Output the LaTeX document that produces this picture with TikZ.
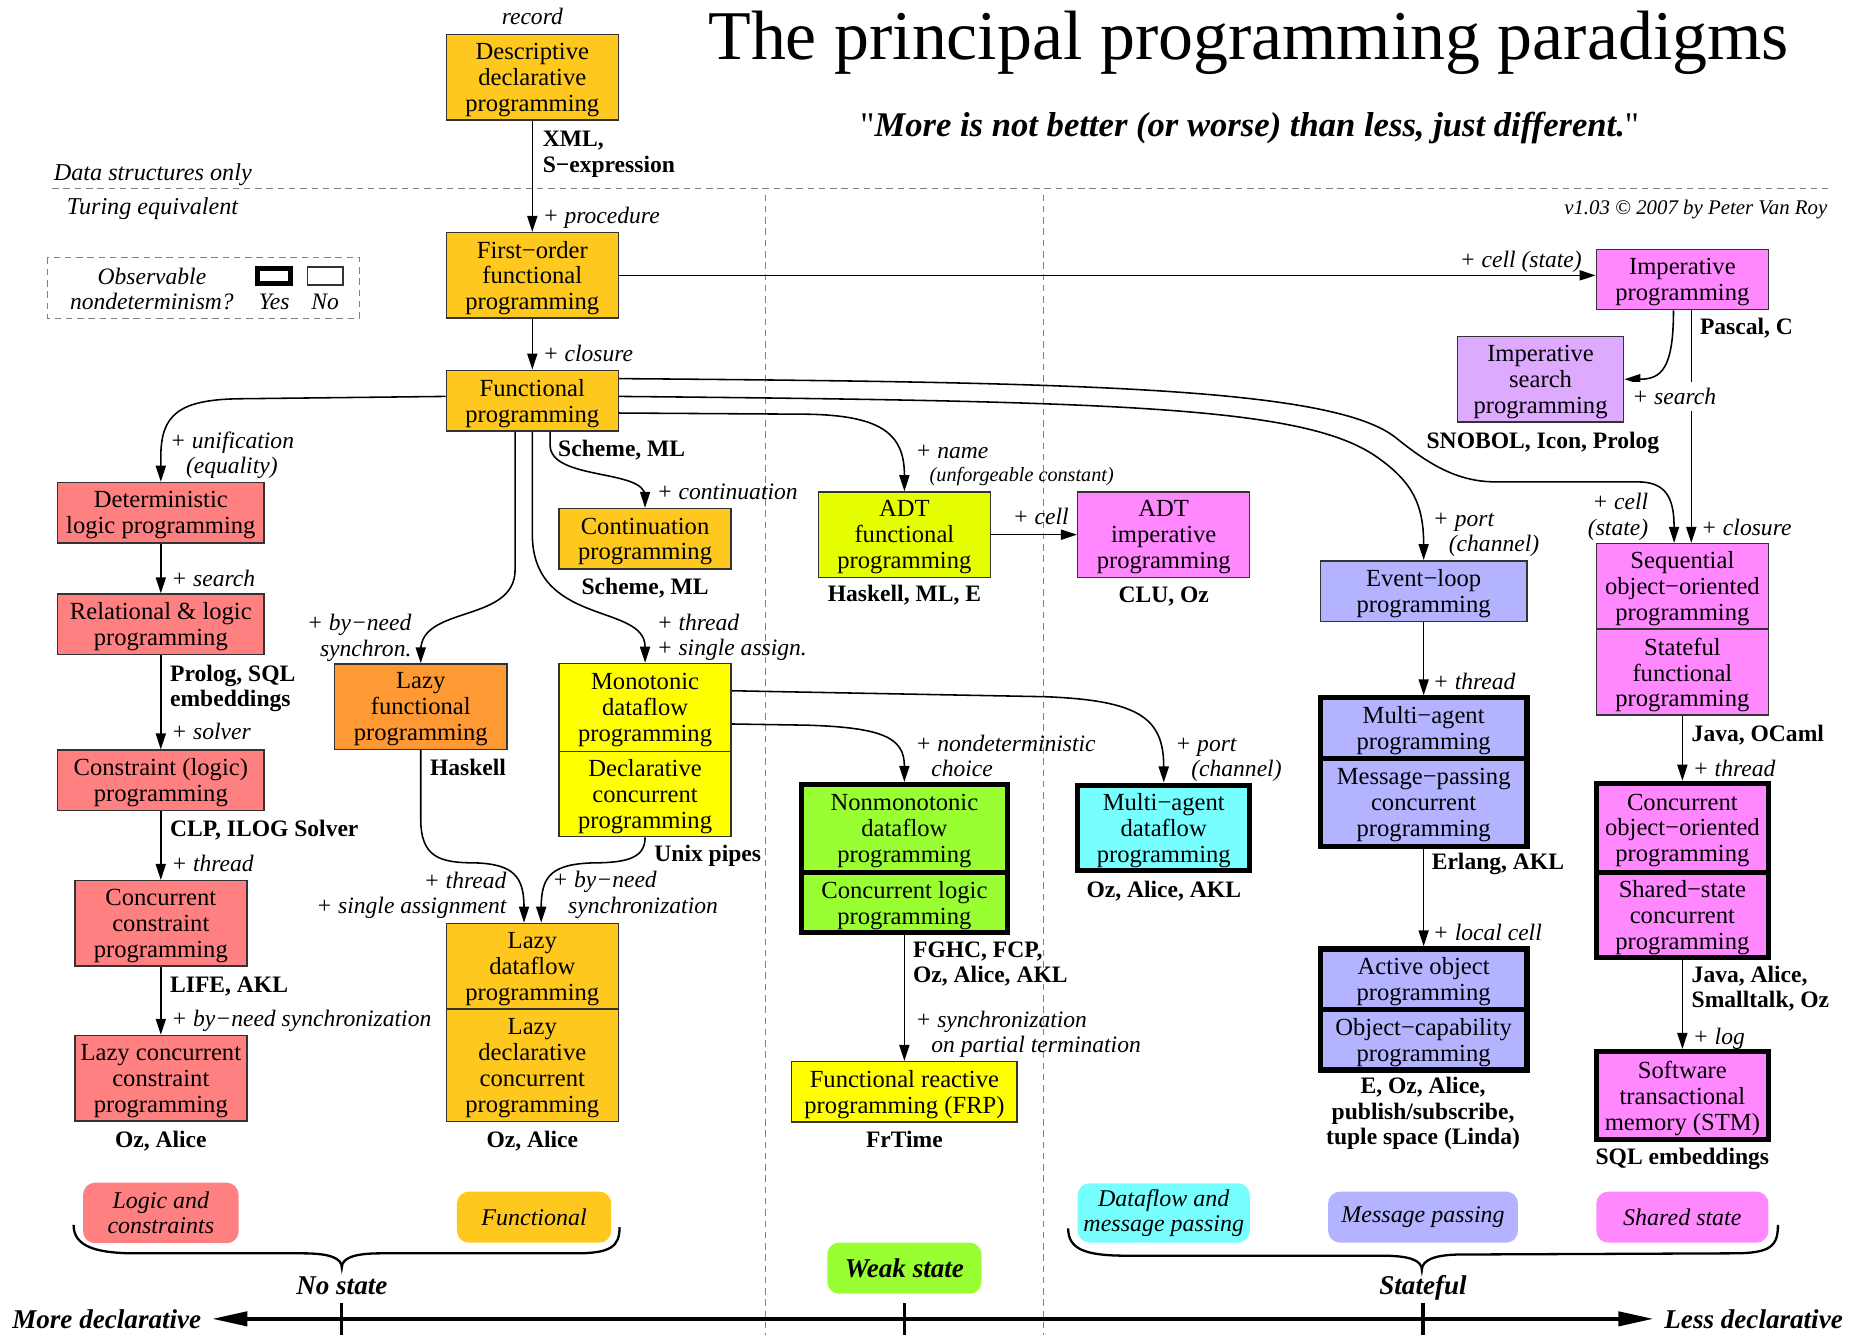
\documentclass[tikz,border=0pt]{standalone}
\usepackage{fontspec}
\setmainfont{Liberation Serif}
\usepackage{tikz}
\usetikzlibrary{arrows.meta}

\definecolor{funcol}{RGB}{255,200,30}
\definecolor{logcol}{RGB}{255,128,128}
\definecolor{lazcol}{RGB}{255,153,51}
\definecolor{yelcol}{RGB}{255,255,0}
\definecolor{adtcol}{RGB}{230,255,0}
\definecolor{grncol}{RGB}{153,255,51}
\definecolor{cyacol}{RGB}{119,255,255}
\definecolor{magcol}{RGB}{255,136,255}
\definecolor{purcol}{RGB}{221,170,255}
\definecolor{msgcol}{RGB}{179,179,255}

\newcommand{\boxsize}{\fontsize{11.8}{12.4}\selectfont}
\newcommand{\labsize}{\fontsize{11.3}{12.2}\selectfont}
\newcommand{\bigsize}{\fontsize{13}{15}\selectfont\bfseries\itshape}
\newcommand{\straightquote}{{\normalfont\addfontfeatures{Ligatures=TeXOff}"}}

\begin{document}
\begin{tikzpicture}[x=0.02cm, y=-0.02cm,
    para/.style={draw=black!80, line width=0.7pt, fill=#1, align=center, inner sep=0pt,
      minimum width=2.9cm, minimum height=1.44cm, text depth=0pt, font=\boxsize},
    wide/.style={minimum width=3.48cm},
    low/.style={minimum height=1.02cm},
    nondet/.style={draw=black, line width=2.5pt},
    note/.style={font=\labsize\itshape, align=left, inner sep=0pt},
    lang/.style={font=\labsize\bfseries, align=left, inner sep=0pt},
    family/.style={fill=#1, rounded corners=0.2cm, inner sep=0pt, minimum width=2.9cm,
      minimum height=0.86cm, align=center, font=\fontsize{11.5}{12.2}\selectfont\itshape},
    link/.style={-{Triangle[length=0.27cm,width=0.17cm]}, line width=0.75pt},
    guide/.style={black!50, dash pattern=on 0.11cm off 0.08cm, line width=0.5pt},
    brace/.style={line width=1.1pt},
    axisline/.style={line width=1.6pt}
]
\useasboundingbox (0,0) rectangle (1568,1125);
\fill[white] (0,0) rectangle (1568,1125);

% heading and separators
\node[anchor=base, inner sep=0pt, font=\fontsize{33.5}{40}\selectfont] (title) at (1052,50.5) {The principal programming paradigms};
\node[anchor=base, inner sep=0pt, font=\fontsize{16.6}{18}\selectfont\bfseries\itshape] (motto) at (1053,115) {\straightquote More is not better (or worse) than less, just different.\straightquote};
\draw[guide] (44,159) -- (1540,159);
\draw[guide] (645,164) -- (645,1125);
\draw[guide] (879,164) -- (879,1125);
\node[note, anchor=base west, font=\fontsize{11.6}{12.2}\selectfont\itshape] (datalabel) at (45,152) {Data structures only};
\node[note, anchor=base west, font=\fontsize{11.6}{12.2}\selectfont\itshape] (turinglabel) at (56,181) {Turing equivalent};
\node[note, anchor=base east, font=\fontsize{10}{12}\selectfont\itshape] (version) at (1540,181) {v1.03 © 2007 by Peter Van Roy};

% legend
\draw[guide] (40,217) rectangle (303,268);
\node[note, align=center, anchor=base] (observable) at (128,261) {Observable\\nondeterminism?};
\node[nondet, minimum width=0.56cm, minimum height=0.26cm, inner sep=0pt] (yesbox) at (231,232.5) {};
\node[draw=black!80, line width=0.7pt, minimum width=0.6cm, minimum height=0.3cm, inner sep=0pt] (nobox) at (274,232.5) {};
\node[note, anchor=base] (yes) at (231,261) {Yes};
\node[note, anchor=base] (no) at (274,261) {No};

% paradigms
\node[para=funcol] (desc) at (448.5,65) {Descriptive\\declarative\\programming};
\node[para=funcol] (first) at (448.5,232) {First−order\\functional\\programming};
\node[para=funcol, low] (func) at (448.5,337.5) {Functional\\programming};
\node[para=logcol, wide, low] (detlog) at (135.5,432) {Deterministic\\logic programming};
\node[para=logcol, wide, low] (rel) at (135.5,526) {Relational \& logic\\programming};
\node[para=logcol, wide, low] (cons) at (135.5,657.5) {Constraint (logic)\\programming};
\node[para=logcol] (cc) at (135.5,778) {Concurrent\\constraint\\programming};
\node[para=logcol] (lcc) at (135.5,908.5) {Lazy concurrent\\constraint\\programming};
\node[para=lazcol] (lazyf) at (354.5,595.5) {Lazy\\functional\\programming};
\node[para=funcol, low] (cont) at (543.5,454) {Continuation\\programming};
\node[para=yelcol, minimum height=1.48cm] (mono) at (543.5,596) {Monotonic\\dataflow\\programming};
\node[para=yelcol] (decl) at (543.5,669) {Declarative\\concurrent\\programming};
\node[para=funcol] (lazydf) at (448.5,814) {Lazy\\dataflow\\programming};
\node[para=funcol, minimum height=1.9cm] (lazydecl) at (448.5,897.5) {Lazy\\declarative\\concurrent\\programming};
\node[para=adtcol] (adtf) at (762,450.5) {ADT\\functional\\programming};
\node[para=magcol] (adti) at (980.5,450.5) {ADT\\imperative\\programming};
\node[para=grncol, wide, nondet, minimum height=1.48cm] (nonmono) at (762,698) {Nonmonotonic\\dataflow\\programming};
\node[para=grncol, wide, nondet, low] (clogic) at (762,760.5) {Concurrent logic\\programming};
\node[para=yelcol, low, minimum width=3.8cm] (frp) at (762,920) {Functional reactive\\programming (FRP)};
\node[para=cyacol, nondet] (mad) at (980.5,697.5) {Multi−agent\\dataflow\\programming};
\node[para=magcol, low] (imp) at (1417.5,235.5) {Imperative\\programming};
\node[para=purcol, minimum width=2.8cm] (isearch) at (1298,319.5) {Imperative\\search\\programming};
\node[para=msgcol, wide, low] (evloop) at (1199.5,498) {Event−loop\\programming};
\node[para=msgcol, wide, low, nondet] (magent) at (1199.5,613.5) {Multi−agent\\programming};
\node[para=msgcol, wide, nondet, minimum height=1.48cm] (msgpass) at (1199.5,676) {Message−passing\\concurrent\\programming};
\node[para=msgcol, wide, low, nondet] (active) at (1199.5,825) {Active object\\programming};
\node[para=msgcol, wide, low, nondet] (objcap) at (1199.5,876) {Object−capability\\programming};
\node[para=magcol] (seqoo) at (1417.5,494) {Sequential\\object−oriented\\programming};
\node[para=magcol] (statef) at (1417.5,566.5) {Stateful\\functional\\programming};
\node[para=magcol, nondet, minimum height=1.5cm] (cooo) at (1417.5,697.5) {Concurrent\\object−oriented\\programming};
\node[para=magcol, nondet] (shst) at (1417.5,771) {Shared−state\\concurrent\\programming};
\node[para=magcol, nondet, minimum height=1.48cm] (stm) at (1417.5,923) {Software\\transactional\\memory (STM)};

% derivations
\draw[link] (desc) -- (first);
\draw[link] (first) -- (func);
\draw[link] (first.east) -- (first.east -| imp.west);
\draw[link] ([yshift=0.07cm]func.west) -- (200,336) .. controls (150,337) and (135.5,350) .. (135.5,385) -- (detlog.north);
\draw[link] (detlog) -- (rel);
\draw[link] (rel) -- (cons);
\draw[link] (cons) -- (cc);
\draw[link] (cc) -- (lcc);
\draw[link] ([xshift=-0.29cm]func.south) -- (434,480) .. controls (434,525) and (354.5,510) .. (354.5,548) -- (lazyf.north);
\draw[link] (func.south) -- (448.5,450) .. controls (448.5,528) and (543.5,508) .. (543.5,545) -- (mono.north);
\draw[link] ([xshift=0.3cm]func.south) -- (463.5,375) .. controls (463.5,405) and (543.5,395) .. (543.5,418) -- (cont.north);
\draw[link] ([yshift=-0.21cm]func.east) -- (680,349) .. controls (740,350) and (762,364) .. (762,400) -- (adtf.north);
\draw[link] ([yshift=0.37cm]func.east) .. controls (900,322) and (1120,326) .. (1175,368) .. controls (1200,388) and (1225,406) .. (1260,406) -- (1380,406) .. controls (1404,406) and (1410.5,420) .. ([xshift=-0.14cm]seqoo.north);
\draw[link] ([yshift=0.07cm]func.east) .. controls (950,338) and (1100,343) .. (1160,385) .. controls (1190,406) and (1199.5,425) .. (evloop.north);
\draw[link] ([xshift=-0.15cm]imp.south) .. controls (1410,310) and (1400,319.5) .. (isearch.east);
\draw[link] ([xshift=0.15cm]imp.south) -- ([xshift=0.15cm]seqoo.north);
\draw[link] (adtf) -- (adti);
\draw[link] ([yshift=0.28cm]mono.east) -- (880,587) .. controls (960,590) and (980.5,605) .. (mad.north);
\draw[link] ([yshift=-0.28cm]mono.east) -- (680,611) .. controls (745,613) and (762,622) .. (nonmono.north);
\draw[link] (decl.south) .. controls (543.5,722) and (530,727) .. (500,727) .. controls (465,728) and (456,738) .. ([xshift=0.15cm]lazydf.north);
\draw[link] (lazyf.south) -- (354.5,690) .. controls (354.5,722) and (370,727) .. (400,727) .. controls (432,728) and (441.5,738) .. ([xshift=-0.14cm]lazydf.north);
\draw[link] (clogic) -- (frp);
\draw[link] (evloop) -- (magent);
\draw[link] (msgpass) -- (active);
\draw[link] (statef) -- (cooo);
\draw[link] (shst) -- (stm);

% labels on the derivations
\node[note, anchor=base] (recordlabel) at (448.5,21) {record};
\node[lang, anchor=base west] (xmllabel) at (457,145) {XML,\\S−expression};
\node[note, anchor=base west] (proclabel) at (457,188) {+ procedure};
\node[note, anchor=base west] (closurelabel) at (457,305) {+ closure};
\node[note, anchor=base east] (celllabel) at (1333,225) {+ cell (state)};
\node[lang, anchor=base west] (pascallabel) at (1432,282) {Pascal, C};
\node[note, anchor=base west, fill=white, inner ysep=0.11cm] (searchlabel) at (1375,341) {+ search};
\node[lang, anchor=base] (snobollabel) at (1300,378) {SNOBOL, Icon, Prolog};
\node[note, anchor=base west] (uniflabel) at (143,399) {+ unification\\\hphantom{+}(equality)};
\node[lang, anchor=base west] (schemelabel) at (470,385) {Scheme, ML};
\node[note, anchor=base west] (contlabel) at (553,421) {+ continuation};
\node[lang, anchor=base] (schemelabel2) at (543.5,501) {Scheme, ML};
\node[note, anchor=base west] (namelabel) at (771,386) {+ name};
\node[note, anchor=base west, font=\fontsize{9.7}{11}\selectfont\itshape] (unforglabel) at (783,406) {(unforgeable constant)};
\node[note, anchor=base west] (celllabel2) at (853,442) {+ cell};
\node[lang, anchor=base] (haskmllabel) at (762,507) {Haskell, ML, E};
\node[lang, anchor=base] (clulabel) at (980.5,508) {CLU, Oz};
\node[note, anchor=base west] (portlabel) at (1207,465) {+ port\\\hphantom{+}(channel)};
\node[note, anchor=base east, align=right] (celllabel3) at (1389,451) {+ cell\\(state)};
\node[note, anchor=base west] (closurelabel2) at (1433,451) {+ closure};
\node[note, anchor=base west] (searchlabel2) at (144,494.5) {+ search};
\node[lang, anchor=base west] (prologlabel) at (143,595.6) {Prolog, SQL\\embeddings};
\node[note, anchor=base west] (solverlabel) at (144,623) {+ solver};
\node[lang, anchor=base west] (clplabel) at (143,705) {CLP, ILOG Solver};
\node[note, anchor=base west] (threadlabel) at (144,734.6) {+ thread};
\node[lang, anchor=base west] (lifelabel) at (143,836) {LIFE, AKL};
\node[note, anchor=base west] (needlabel) at (144,865) {+ by−need synchronization};
\node[lang, anchor=base] (ozlabel) at (135.5,967) {Oz, Alice};
\node[note, anchor=base east, align=right] (needlabel2) at (347,553) {+ by−need\\synchron.};
\node[lang, anchor=base west] (haskelllabel) at (362,653) {Haskell};
\node[note, anchor=base west] (threadlabel2) at (553,552.6) {+ thread\\+ single assign.};
\node[lang, anchor=base west] (unixlabel) at (551,726) {Unix pipes};
\node[note, anchor=base east, align=right] (threadlabel3) at (427,770) {+ thread\\+ single assignment};
\node[note, anchor=base west] (needlabel3) at (465,769.5) {+ by−need\\\hphantom{+}synchronization};
\node[lang, anchor=base] (ozlabel2) at (448.5,967) {Oz, Alice};
\node[note, anchor=base west] (choicelabel) at (771,654.5) {+ nondeterministic\\\hphantom{+}choice};
\node[note, anchor=base west] (portlabel2) at (990,654.5) {+ port\\\hphantom{+}(channel)};
\node[lang, anchor=base west] (fghclabel) at (769,828) {FGHC, FCP,\\Oz, Alice, AKL};
\node[note, anchor=base west] (synclabel) at (771,887) {+ synchronization\\\hphantom{+}on partial termination};
\node[lang, anchor=base] (frtimelabel) at (762,967) {FrTime};
\node[lang, anchor=base] (akllabel) at (980.5,756) {Oz, Alice, AKL};
\node[note, anchor=base west] (threadlabel4) at (1207,581) {+ thread};
\node[lang, anchor=base west] (erlanglabel) at (1206,733) {Erlang, AKL};
\node[note, anchor=base west] (locallabel) at (1207,792) {+ local cell};
\node[lang, anchor=base, align=center] (lindalabel) at (1199,964.6) {E, Oz, Alice,\\publish/subscribe,\\tuple space (Linda)};
\node[lang, anchor=base west] (javalabel) at (1425,625) {Java, OCaml};
\node[note, anchor=base west] (threadlabel5) at (1426,654.6) {+ thread};
\node[lang, anchor=base west] (javalabel2) at (1425,849) {Java, Alice,\\Smalltalk, Oz};
\node[note, anchor=base west] (loglabel) at (1426,880) {+ log};
\node[lang, anchor=base] (sqllabel) at (1417.5,981) {SQL embeddings};

% families and the declarativeness scale
\node[family=logcol, minimum width=2.62cm, minimum height=1.02cm] (catlogic) at (135.5,1022) {Logic and\\constraints};
\node[family=funcol, minimum width=2.6cm] (catfunc) at (450,1025.5) {Functional};
\node[family=grncol, minimum width=2.6cm, font=\bigsize] (catweak) at (762,1068.5) {Weak state};
\node[family=cyacol, minimum height=1.0cm] (catdata) at (980.5,1022) {Dataflow and\\message passing};
\node[family=msgcol, minimum width=3.2cm] (catmsg) at (1199,1025.5) {Message passing};
\node[family=magcol] (catshared) at (1417.5,1025.5) {Shared state};

\draw[brace] (62,1032) .. controls (62,1050) and (80,1056) .. (115,1056) -- (255,1056) .. controls (278,1056) and (288,1060) .. (288,1068) .. controls (288,1060) and (298,1056) .. (321,1056) -- (485,1056) .. controls (515,1056) and (522,1050) .. (522,1034);
\draw[brace] (900,1035) .. controls (900,1053) and (915,1058) .. (950,1058) -- (1165,1058) .. controls (1188,1058) and (1198,1062) .. (1198,1070) .. controls (1198,1062) and (1208,1057) .. (1231,1057) -- (1460,1056) .. controls (1492,1056) and (1498,1050) .. (1498,1032);
\node[font=\bigsize, anchor=base, inner sep=0pt] (nostate) at (288,1091) {No state};
\node[font=\bigsize, anchor=base, inner sep=0pt] (stateful) at (1199,1091) {Stateful};

\node[font=\bigsize, anchor=base west, inner xsep=0.18cm, inner ysep=0pt] (moredecl) at (1,1119) {More declarative};
\node[font=\bigsize, anchor=base west, inner xsep=0.18cm, inner ysep=0pt] (lessdecl) at (1393,1119) {Less declarative};
\draw[axisline, {Triangle[length=0.59cm,width=0.24cm]}-{Triangle[length=0.59cm,width=0.24cm]}] (moredecl) -- (lessdecl);
\draw[axisline] (288,1098) -- (288,1125);
\draw[axisline] (762,1098) -- (762,1125);
\draw[axisline] (1199,1098) -- (1199,1125);
\end{tikzpicture}
\end{document}
